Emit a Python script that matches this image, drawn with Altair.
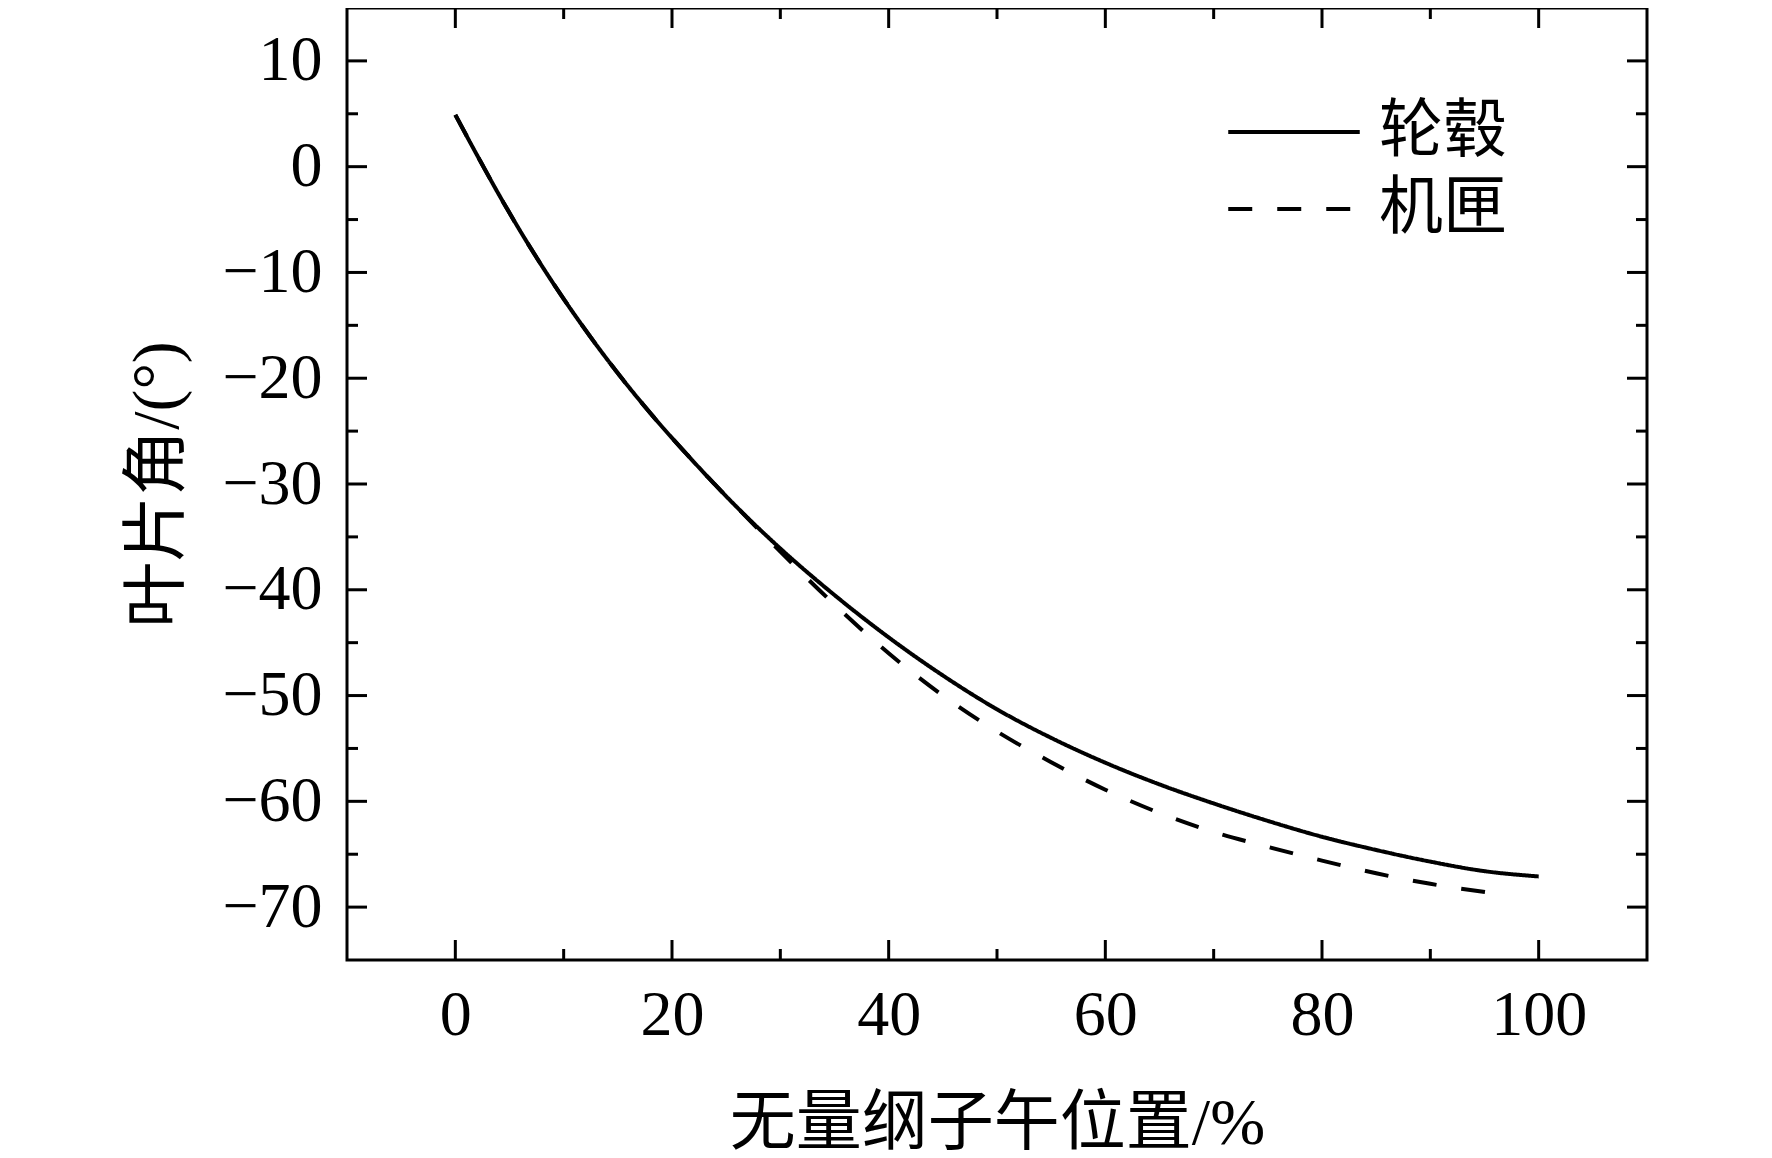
import altair as alt
import pandas as pd

# ---- data ----
hub_x = [0, 2, 4, 6, 8, 10, 14, 18, 22, 26, 30, 35, 40, 45, 50, 55, 60, 65, 70, 75, 80, 85, 90, 95, 100]
hub_y = [4.9, 1.1, -2.6, -6.1, -9.4, -12.5, -18.2, -23.3, -27.9, -32.2, -36.1, -40.5, -44.5, -48.1,
         -51.3, -54.0, -56.35, -58.4, -60.2, -61.85, -63.35, -64.6, -65.7, -66.6, -67.1]

case_x = [0, 2, 4, 6, 8, 10, 14, 18, 22, 26, 30, 35, 40, 45, 50, 55, 60, 65, 70, 75, 80, 85, 90, 96]
case_y = [4.9, 1.1, -2.6, -6.1, -9.4, -12.5, -18.2, -23.3, -27.9, -32.2, -36.4, -41.4, -46.0, -50.0,
          -53.4, -56.3, -58.9, -61.1, -62.9, -64.3, -65.6, -66.8, -67.8, -68.7]

series_names = ["轮毂", "机匣"]

x_major = [0, 20, 40, 60, 80, 100]
x_minor = [10, 30, 50, 70, 90]
y_major = [10, 0, -10, -20, -30, -40, -50, -60, -70]
y_minor = [5, -5, -15, -25, -35, -45, -55, -65]

W, H = 1300, 952
MAJ, MIN = 20, 11

df = pd.concat([
    pd.DataFrame({"x": hub_x, "y": hub_y, "s": series_names[0]}),
    pd.DataFrame({"x": case_x, "y": case_y, "s": series_names[1]}),
])

xscale = alt.Scale(domain=[-10, 110], nice=False, zero=False)
yscale = alt.Scale(domain=[-75, 15], nice=False, zero=False)

FONT = "Liberation Serif, Noto Sans CJK SC"

lines = alt.Chart(df).mark_line(color="black", strokeWidth=4, interpolate="monotone").encode(
    x=alt.X("x:Q", scale=xscale,
            axis=alt.Axis(values=x_major, ticks=False, tickSize=0, domain=False, grid=False,
                          labelFont="Liberation Serif", labelFontSize=64, labelColor="black",
                          labelPadding=23, labelFlush=False,
                          title="无量纲子午位置/%", titleFont=FONT, titleFontSize=66,
                          titleFontWeight="normal", titleColor="black",
                          titleY=163, titleBaseline="middle")),
    y=alt.Y("y:Q", scale=yscale,
            axis=alt.Axis(values=y_major, ticks=False, tickSize=0, domain=False, grid=False,
                          labelFont="Liberation Serif", labelFontSize=64, labelColor="black",
                          labelPadding=25, labelFlush=False,
                          title="叶片角/(°)", titleFont=FONT, titleFontSize=66,
                          titleFontWeight="normal", titleColor="black",
                          titleX=-190, titleY=H / 2, titleBaseline="middle")),
    strokeDash=alt.StrokeDash("s:N",
                              scale=alt.Scale(domain=series_names, range=[[1, 0], [24, 25]]),
                              legend=alt.Legend(title=None, orient="none", legendX=915, legendY=92,
                                                symbolType="M-2.4,0H2.4", symbolSize=3003,
                                                symbolStrokeWidth=4, symbolStrokeColor="black",
                                                symbolFillColor="transparent",
                                                labelFont=FONT, labelFontSize=64, labelColor="black",
                                                labelOffset=53, rowPadding=13, padding=0)),
    order="x:Q",
)

def tick_layer(vals, axis, length):
    d = pd.DataFrame({"v": vals})
    base = alt.Chart(d).mark_rule(color="black", strokeWidth=3)
    if axis == "bottom":
        return base.encode(x=alt.X("v:Q", scale=xscale), y=alt.value(H), y2=alt.value(H - length))
    if axis == "top":
        return base.encode(x=alt.X("v:Q", scale=xscale), y=alt.value(0), y2=alt.value(length))
    if axis == "left":
        return base.encode(y=alt.Y("v:Q", scale=yscale), x=alt.value(0), x2=alt.value(length))
    return base.encode(y=alt.Y("v:Q", scale=yscale), x=alt.value(W), x2=alt.value(W - length))

ticks = []
for side in ["bottom", "top"]:
    ticks.append(tick_layer(x_major, side, MAJ))
    ticks.append(tick_layer(x_minor, side, MIN))
for side in ["left", "right"]:
    ticks.append(tick_layer(y_major, side, MAJ))
    ticks.append(tick_layer(y_minor, side, MIN))

chart = alt.layer(lines, *ticks).properties(
    width=W, height=H,
    autosize=alt.AutoSizeParams(type="none"),
    padding={"left": 339, "top": 0, "right": 110, "bottom": 196},
    background="white",
).configure_view(stroke="black", strokeWidth=3)

chart.save("out.html", embed_options={"renderer": "svg", "actions": False})
